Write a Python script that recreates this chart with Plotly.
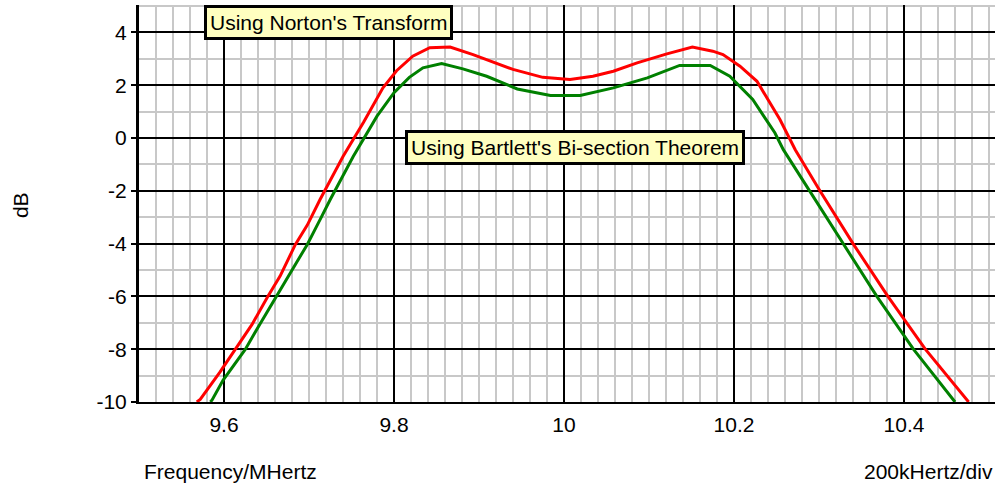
import plotly.graph_objects as go

# Frequency (MHz) and response (dB)
norton_freq = [9.568, 9.572, 9.595, 9.607, 9.616, 9.633, 9.651, 9.666, 9.684, 9.698,
               9.713, 9.740, 9.764, 9.787, 9.803, 9.822, 9.842, 9.866, 9.893, 9.940,
               9.975, 10.007, 10.034, 10.058, 10.086, 10.121, 10.151, 10.175, 10.187,
               10.207, 10.227, 10.254, 10.272, 10.301, 10.340, 10.381, 10.425, 10.476]
norton_db = [-10.0, -9.9, -8.88, -8.31, -7.90, -7.06, -6.03, -5.23, -4.03, -3.30,
             -2.33, -0.70, 0.59, 1.90, 2.55, 3.10, 3.42, 3.45, 3.16, 2.60,
             2.30, 2.22, 2.34, 2.53, 2.85, 3.19, 3.45, 3.29, 3.16,
             2.72, 2.15, 0.70, -0.44, -2.0, -4.0, -6.0, -8.0, -10.0]

bartlett_freq = [9.584, 9.586, 9.599, 9.625, 9.642, 9.661, 9.680, 9.698, 9.713, 9.725,
                 9.752, 9.764, 9.780, 9.800, 9.818, 9.834, 9.856, 9.881, 9.909, 9.945,
                 9.984, 10.019, 10.058, 10.098, 10.136, 10.172, 10.195, 10.222, 10.248,
                 10.258, 10.289, 10.328, 10.368, 10.411, 10.460]
bartlett_db = [-10.0, -9.92, -9.17, -8.01, -7.06, -6.03, -5.05, -4.03, -3.09, -2.33,
               -0.70, -0.06, 0.83, 1.72, 2.30, 2.66, 2.82, 2.62, 2.34, 1.86,
               1.61, 1.61, 1.90, 2.28, 2.75, 2.75, 2.34, 1.46, 0.20,
               -0.44, -2.0, -4.0, -6.0, -8.0, -10.0]

x_tickvals = [9.6, 9.8, 10.0, 10.2, 10.4]
x_ticktext = ["9.6", "9.8", "10", "10.2", "10.4"]
y_tickvals = [-10, -8, -6, -4, -2, 0, 2, 4]
y_ticktext = ["-10", "-8", "-6", "-4", "-2", "0", "2", "4"]

FONT = "Liberation Sans, Arial, sans-serif"
FS = 21

fig = go.Figure()
fig.add_trace(go.Scatter(x=norton_freq, y=norton_db, mode="lines",
                         line=dict(color="#ff0000", width=3), showlegend=False))
fig.add_trace(go.Scatter(x=bartlett_freq, y=bartlett_db, mode="lines",
                         line=dict(color="#008000", width=3), showlegend=False))

fig.update_layout(
    width=995, height=489,
    margin=dict(l=139, r=0, t=5, b=87),
    paper_bgcolor="white", plot_bgcolor="white",
    font=dict(family=FONT, size=FS, color="black"),
    showlegend=False,
)
fig.update_xaxes(
    range=[9.5, 10.507], tickmode="array", tickvals=x_tickvals, ticktext=x_ticktext,
    showgrid=True, gridcolor="black", gridwidth=1.5, zeroline=False,
    showline=True, linecolor="black", linewidth=2, ticks="",
    tickfont=dict(size=FS), ticklabelstandoff=3,
    minor=dict(tickmode="linear", tick0=9.5, dtick=0.02, showgrid=True,
               gridcolor="#c8c8c8", gridwidth=1.5, ticks=""),
)
fig.update_yaxes(
    range=[-10, 5.04], tickmode="array", tickvals=y_tickvals, ticktext=y_ticktext,
    showgrid=True, gridcolor="black", gridwidth=1.5, zeroline=False,
    showline=True, linecolor="black", linewidth=3, ticks="outside", ticklen=5,
    tickcolor="black", tickwidth=1.5, tickfont=dict(size=FS),
    minor=dict(tickmode="linear", tick0=-10, dtick=1, showgrid=True,
               gridcolor="#c8c8c8", gridwidth=1.5, ticks=""),
)

fig.add_annotation(x=9.7235, y=4.37, xref="x", yref="y", text="Using Norton's Transform",
                   showarrow=False, font=dict(size=FS, color="black"),
                   bgcolor="#ffffc0", bordercolor="black", borderwidth=3, borderpad=3)
fig.add_annotation(x=10.013, y=-0.34, xref="x", yref="y",
                   text="Using Bartlett's Bi-section Theorem",
                   showarrow=False, font=dict(size=FS, color="black"),
                   bgcolor="#ffffc0", bordercolor="black", borderwidth=3, borderpad=3)

fig.add_annotation(x=3 / 856, y=-0.176, xref="paper", yref="paper", text="Frequency/MHertz",
                   showarrow=False, xanchor="left", yanchor="middle", font=dict(size=FS))
fig.add_annotation(x=1.0, y=-0.176, xref="paper", yref="paper", text="200kHertz/div",
                   showarrow=False, xanchor="right", yanchor="middle", font=dict(size=FS))
fig.add_annotation(x=-0.139, y=0.496, xref="paper", yref="paper", text="dB",
                   showarrow=False, textangle=-90, xanchor="center", yanchor="middle",
                   font=dict(size=FS))

fig.write_html("out.html", config={"displayModeBar": False},
               post_script="document.body.style.margin='0';")
